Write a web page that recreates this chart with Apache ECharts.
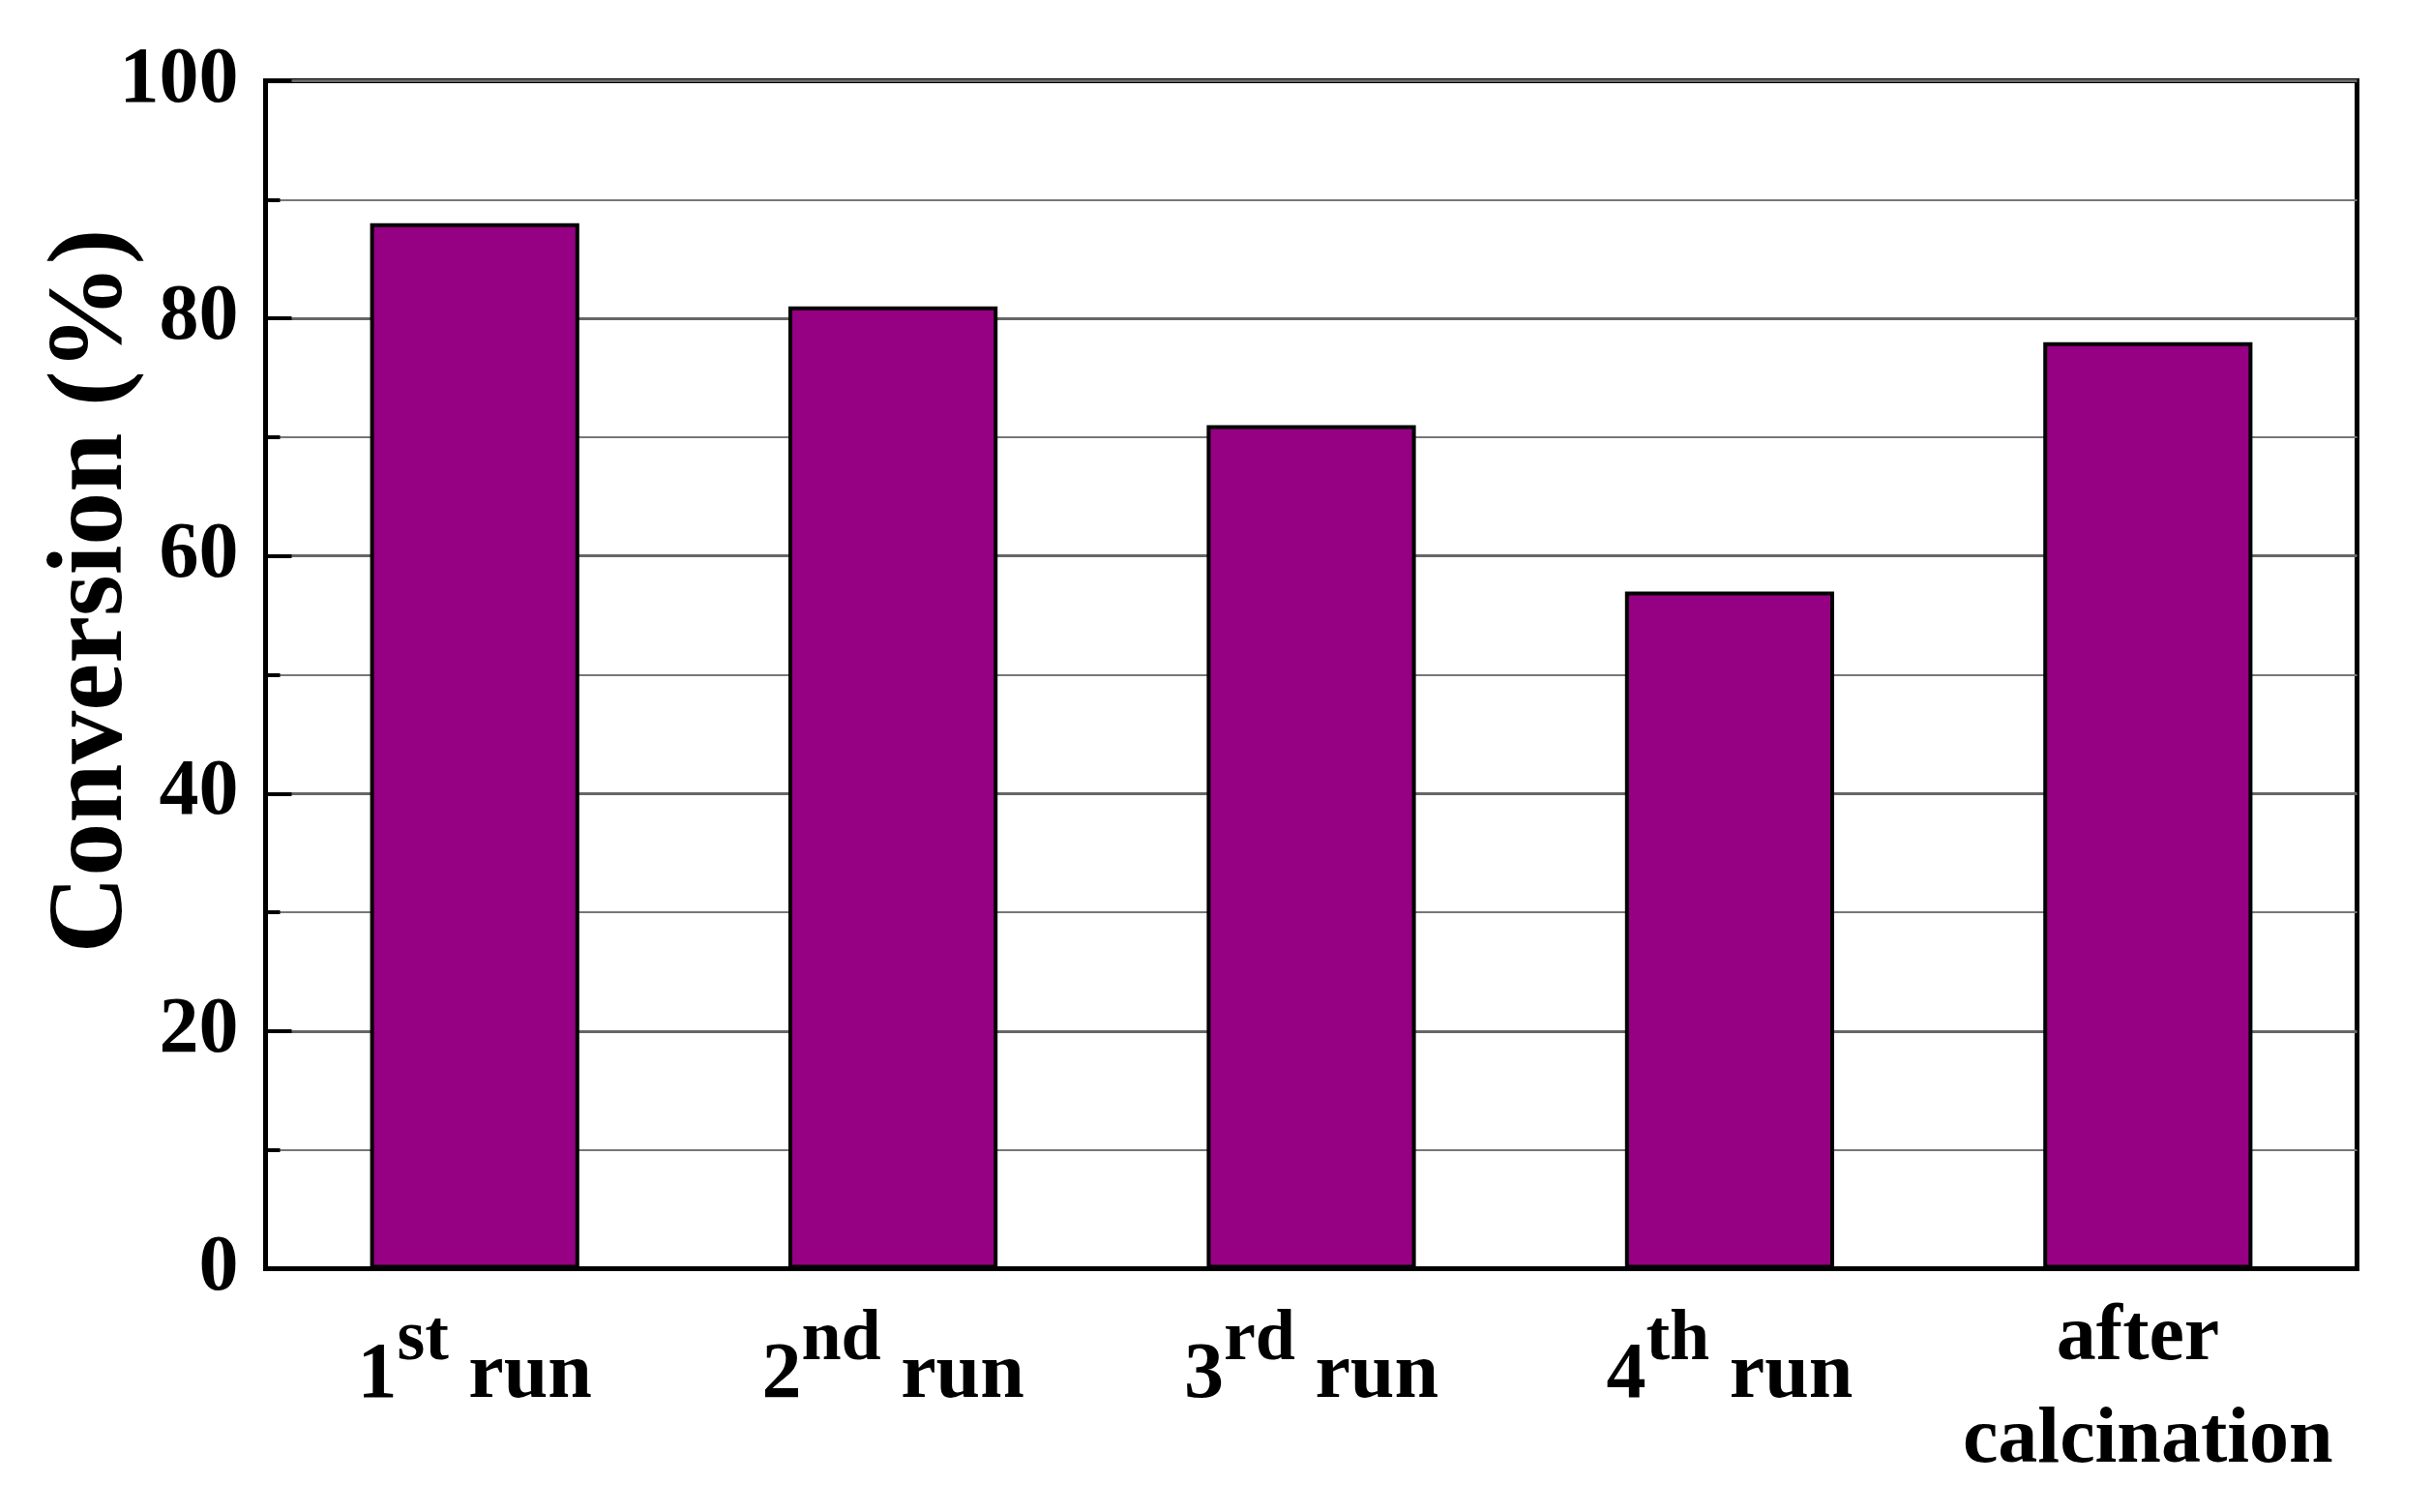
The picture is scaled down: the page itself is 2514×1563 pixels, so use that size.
<!DOCTYPE html>
<html>
<head>
<meta charset="utf-8">
<script src="https://cdn.jsdelivr.net/npm/echarts@6/dist/echarts.min.js"></script>
<style>
html,body{margin:0;padding:0;background:#fff;}
#chart{width:2514px;height:1563px;}
</style>
</head>
<body>
<div id="chart"></div>
<script>
// ---- data ----
const categories = ['1st run', '2nd run', '3rd run', '4th run', 'after calcination'];
const conversion = [88, 81, 71, 57, 78];
const yTicks = [0, 20, 40, 60, 80, 100];
const yTitle = 'Conversion (%)';

const FONT = '"Liberation Serif", "Times New Roman", serif';

const chart = echarts.init(document.getElementById('chart'), null, {renderer: 'canvas'});

function fmtCat(v) {
  const m = /^(\d)(st|nd|rd|th) (.*)$/.exec(v);
  if (m) return '{m|' + m[1] + '}{s|' + m[2] + '}{m| ' + m[3] + '}';
  const w = v.split(' ');
  return '{c|' + w[0] + '}{p| }\n{c|' + w.slice(1).join(' ') + '}';
}

chart.setOption({
  backgroundColor: '#fff',
  animation: false,
  grid: {
    left: 274.5, right: 2514 - 2436.5, top: 83.5, bottom: 1563 - 1311.5,
    show: true, borderColor: '#000', borderWidth: 5, backgroundColor: 'transparent'
  },
  xAxis: {
    type: 'category',
    data: categories,
    boundaryGap: true,
    axisLine: {show: true, lineStyle: {color: '#000', width: 5}},
    axisTick: {show: false},
    splitLine: {show: false},
    axisLabel: {
      interval: 0,
      margin: 111,
      verticalAlign: 'middle',
      color: '#000',
      fontFamily: FONT,
      fontWeight: 'bold',
      fontSize: 82,
      formatter: fmtCat,
      rich: {
        m: {fontFamily: FONT, fontWeight: 'bold', fontSize: 82, lineHeight: 100, color: '#000'},
        s: {fontFamily: FONT, fontWeight: 'bold', fontSize: 74, lineHeight: 86, color: '#000', padding: [0, 0, 74, 0]},
        c: {fontFamily: FONT, fontWeight: 'bold', fontSize: 82, lineHeight: 106, color: '#000', verticalAlign: 'bottom'},
        p: {fontFamily: FONT, fontWeight: 'bold', fontSize: 82, lineHeight: 110, color: '#000'}
      }
    }
  },
  yAxis: {
    type: 'value',
    min: yTicks[0],
    max: yTicks[yTicks.length - 1],
    interval: yTicks[1] - yTicks[0],
    axisLine: {show: true, lineStyle: {color: '#000', width: 5}},
    axisTick: {show: true, inside: true, length: 27, lineStyle: {color: '#000', width: 4}},
    minorTick: {show: true, splitNumber: 2, length: 15, lineStyle: {color: '#000', width: 4}},
    splitLine: {show: true, lineStyle: {color: '#666', width: 3}},
    minorSplitLine: {show: true, lineStyle: {color: '#777', width: 2}},
    axisLabel: {
      margin: 28,
      color: '#000',
      fontFamily: FONT,
      fontWeight: 'bold',
      fontSize: 82
    }
  },
  series: [{
    type: 'bar',
    data: conversion,
    barWidth: '50%',
    itemStyle: {color: '#960082', borderColor: '#000', borderWidth: 4},
    z: 3
  }],
  graphic: [{
    type: 'text',
    x: 97,
    y: 611,
    rotation: Math.PI / 2,
    style: {
      text: yTitle,
      fill: '#000',
      font: 'bold 110px ' + FONT,
      textAlign: 'center',
      textVerticalAlign: 'middle'
    }
  }]
});
</script>
</body>
</html>
